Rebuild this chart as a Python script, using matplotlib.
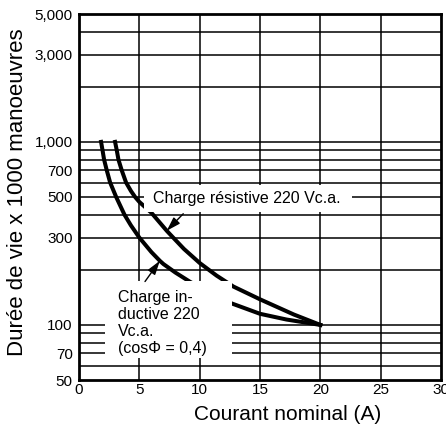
import matplotlib.pyplot as plt
from matplotlib.patches import Rectangle

plt.rcParams['font.family'] = ['Liberation Sans', 'DejaVu Sans']

# courbes (courant en A, durée de vie en milliers de manoeuvres)
I_ind = [1.83, 1.95, 2.08, 2.3, 2.58, 3.08, 3.77, 4.3, 5.0, 6.0, 6.7, 7.0, 8.0, 9.2, 11.0, 12.66, 15.0, 17.2, 20.0]
N_ind = [1000, 900, 800, 700, 600, 500, 400, 350, 300, 250, 224, 215, 193, 172, 148, 131, 115, 107, 100]
I_res = [2.99, 3.13, 3.27, 3.54, 3.9, 4.3, 4.65, 5.0, 6.0, 7.27, 7.5, 8.7, 10.0, 11.4, 12.8, 15.0, 17.8, 20.0]
N_res = [1000, 900, 800, 700, 600, 540, 500, 470, 410, 327, 315, 260, 218, 186, 162, 138, 114, 100]

y_ticks = [50, 70, 100, 300, 500, 700, 1000, 3000, 5000]
y_labels = ['50', '70', '100', '300', '500', '700', '1,000', '3,000', '5,000']
x_ticks = [0, 5, 10, 15, 20, 25, 30]
y_grid = list(range(60, 100, 10)) + list(range(100, 1000, 100)) + list(range(1000, 5000, 1000))

fig = plt.figure(figsize=(4.46, 4.43), dpi=100)
ax = fig.add_axes([79/446, 1-380/443, 362/446, 366/443])
ax.set_yscale('log')
ax.set_xlim(0, 30)
ax.set_ylim(50, 5000)

for v in y_grid:
    ax.axhline(v, color='black', lw=1.1, zorder=1)
for v in x_ticks[1:-1]:
    ax.axvline(v, color='black', lw=1.1, zorder=1)

ax.plot(I_ind, N_ind, color='black', lw=2.9, zorder=2)
ax.plot(I_res, N_res, color='black', lw=2.9, zorder=2)

ax.set_yticks(y_ticks)
ax.set_yticklabels(y_labels)
ax.yaxis.set_minor_locator(plt.NullLocator())
ax.set_xticks(x_ticks)
ax.tick_params(axis='both', length=0, labelsize=11)
ax.tick_params(axis='y', pad=4.5)
ax.tick_params(axis='x', pad=2)
for s in ax.spines.values():
    s.set_linewidth(2)

# caches blancs derriere les etiquettes
ax.add_patch(Rectangle((0.18, 0.459), 0.574, 0.074, transform=ax.transAxes,
                       fc='white', ec='none', zorder=3))
ax.add_patch(Rectangle((0.072, 0.060), 0.351, 0.210, transform=ax.transAxes,
                       fc='white', ec='none', zorder=3))

arrow = dict(arrowstyle='-|>,head_length=0.7,head_width=0.22', color='black', lw=1,
             mutation_scale=12, shrinkA=0, shrinkB=0)

ax.text(6.11, 491, 'Charge résistive 220 Vc.a.', fontsize=11.5, va='center', ha='left', zorder=4)
ax.annotate('', xy=(7.27, 327), xytext=(8.64, 405), arrowprops=arrow, zorder=4)

ax.text(3.26, 102.5, 'Charge in-\nductive 220\nVc.a.\n(cosΦ = 0,4)', fontsize=11.5,
        va='center', ha='left', linespacing=1.15, zorder=4)
ax.annotate('', xy=(6.7, 224), xytext=(5.47, 172.6), arrowprops=arrow, zorder=4)

fig.text(18/446, 1-192/443, 'Durée de vie x 1000 manoeuvres', rotation=90,
         ha='center', va='center', fontsize=16)
fig.text(288/446, 1-414/443, 'Courant nominal (A)', ha='center', va='center', fontsize=15)

fig.savefig('out.png', dpi=100)
